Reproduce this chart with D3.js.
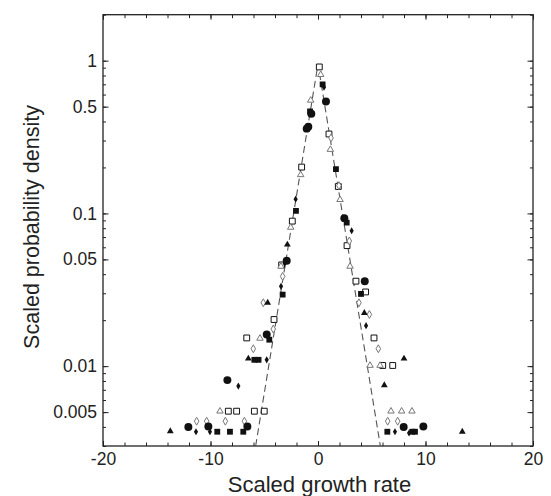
<!DOCTYPE html>
<html>
<head>
<meta charset="utf-8">
<script src="https://cdn.jsdelivr.net/npm/d3@7"></script>
<style>
  html, body { margin: 0; padding: 0; background: #fff; }
  svg { display: block; }
  text { font-family: "Liberation Sans", Arial, Helvetica, sans-serif; fill: #222; }
</style>
</head>
<body>
<svg id="chart" width="551" height="496"></svg>
<script>
// ---- data (x = scaled growth rate, y = scaled probability density)
const filledCircles = [
  [0.74, 0.54], [-0.62, 0.45], [-1.05, 0.359], [-0.9, 0.37], [2.45, 0.093],
  [-2.91, 0.049], [4.35, 0.036], [-4.77, 0.0161], [-8.43, 0.0081],
  [-12.06, 0.0040], [-10.2, 0.00403], [-6.57, 0.00403], [7.97, 0.0040], [9.8, 0.00403]
];
const filledDiamonds = [
  [0.56, 0.67], [-2.08, 0.124], [3.13, 0.077], [-3.1, 0.047], [-3.44, 0.0333],
  [4.47, 0.0184], [-4.77, 0.011], [-7.41, 0.0074], [-11.35, 0.00372],
  [-10.05, 0.00372], [7.16, 0.00372], [8.47, 0.00365]
];
const filledSquares = [
  [0.43, 0.70], [-0.74, 0.466], [1.67, 0.195], [-2.05, 0.104], [2.67, 0.087],
  [-3.29, 0.0294], [4.0, 0.0297], [-4.53, 0.0149], [-5.92, 0.011], [-5.53, 0.011],
  [-9.37, 0.00372], [-8.19, 0.00372], [-6.95, 0.00372], [6.45, 0.00372],
  [8.77, 0.00372], [9.02, 0.00372]
];
const filledTriangles = [
  [-2.85, 0.0625], [-4.68, 0.026], [4.31, 0.0223], [-6.48, 0.0112], [8.0, 0.0112],
  [6.17, 0.0075], [-13.74, 0.00375], [13.42, 0.00372]
];
const openSquares = [
  [0.12, 0.91], [1.02, 0.331], [-1.52, 0.201], [1.89, 0.150], [-2.39, 0.089],
  [2.70, 0.0615], [-3.38, 0.046], [3.53, 0.036], [4.43, 0.0306], [-4.09, 0.0202],
  [-6.63, 0.0153], [5.21, 0.0153], [6.02, 0.0101], [6.95, 0.0101],
  [-8.34, 0.00507], [-7.57, 0.00507], [-5.92, 0.00507], [-5.0, 0.00507]
];
const openDiamonds = [
  [1.21, 0.312], [1.95, 0.152], [2.91, 0.066], [-3.29, 0.0387], [3.81, 0.026],
  [-5.09, 0.026], [4.78, 0.0218], [-4.16, 0.0175], [-6.02, 0.013], [5.61, 0.013],
  [-11.29, 0.00436], [-10.36, 0.00436], [-8.62, 0.00436], [-6.85, 0.00436],
  [6.48, 0.00436], [7.41, 0.00436]
];
const openTriangles = [
  [0.25, 0.81], [-0.68, 0.55], [1.15, 0.262], [-1.61, 0.179], [2.05, 0.123],
  [-2.54, 0.081], [-3.45, 0.045], [2.98, 0.045], [-5.4, 0.0152], [4.84, 0.0101],
  [5.77, 0.0101], [-9.12, 0.00507], [6.79, 0.00507], [7.78, 0.00507], [8.74, 0.00507]
];
// dashed guide line (straight on the log scale)
const guideLine = [[-5.8, 0.003], [0, 0.95], [5.8, 0.003]];

const xTickLabels = [-20, -10, 0, 10, 20];
const yTickLabels = [1, 0.5, 0.1, 0.05, 0.01, 0.005];
const xLabel = "Scaled growth rate";
const yLabel = "Scaled probability density";

// ---- layout
const L = 103, T = 14.7, W = 430, H = 431.3;
const svg = d3.select("#chart");
const x = d3.scaleLinear().domain([-20, 20]).range([L, L + W]);
const y = d3.scaleLog().domain([0.003, 2]).range([T + H, T]);

svg.append("defs").append("clipPath").attr("id", "clip")
  .append("rect").attr("x", L).attr("y", T).attr("width", W).attr("height", H);

// minor tick values
const xMinor = d3.range(-20, 21, 2);
const yMinor = [];
[-3, -2, -1, 0].forEach(k => { for (let m = 1; m <= 9; m++) { const v = m * Math.pow(10, k); if (v >= 0.003 && v <= 2) yMinor.push(v); } });

function styleAxis(g) {
  g.select(".domain").remove();
  g.selectAll(".tick line").attr("stroke", "#222").attr("stroke-width", 1);
  g.selectAll(".tick text").style("font-size", "17.5px").attr("fill", "#222");
}

// bottom
svg.append("g").attr("transform", `translate(0,${T + H})`)
  .call(d3.axisBottom(x).tickValues(xMinor).tickSize(-3.5).tickFormat(""))
  .call(styleAxis);
svg.append("g").attr("transform", `translate(0,${T + H})`)
  .call(d3.axisBottom(x).tickValues(xTickLabels).tickSize(-5).tickPadding(6.5).tickFormat(d => String(d)))
  .call(styleAxis);
// top
svg.append("g").attr("transform", `translate(0,${T})`)
  .call(d3.axisTop(x).tickValues(xMinor).tickSize(-3.5).tickFormat(""))
  .call(styleAxis);
svg.append("g").attr("transform", `translate(0,${T})`)
  .call(d3.axisTop(x).tickValues(xTickLabels).tickSize(-5).tickFormat(""))
  .call(styleAxis);
// left
svg.append("g").attr("transform", `translate(${L},0)`)
  .call(d3.axisLeft(y).tickValues(yMinor).tickSize(-3).tickFormat(""))
  .call(styleAxis);
svg.append("g").attr("transform", `translate(${L},0)`)
  .call(d3.axisLeft(y).tickValues(yTickLabels).tickSize(-5.5).tickPadding(6).tickFormat(d => String(d)))
  .call(styleAxis);
// right
svg.append("g").attr("transform", `translate(${L + W},0)`)
  .call(d3.axisRight(y).tickValues(yMinor).tickSize(-3).tickFormat(""))
  .call(styleAxis);
svg.append("g").attr("transform", `translate(${L + W},0)`)
  .call(d3.axisRight(y).tickValues(yTickLabels).tickSize(-5.5).tickFormat(""))
  .call(styleAxis);

// frame
svg.append("rect").attr("x", L).attr("y", T).attr("width", W).attr("height", H)
  .attr("fill", "none").attr("stroke", "#222").attr("stroke-width", 1.3);

// dashed line
const plot = svg.append("g").attr("clip-path", "url(#clip)");
plot.append("path").datum(guideLine)
  .attr("d", d3.line().x(d => x(d[0])).y(d => y(d[1])))
  .attr("fill", "none").attr("stroke", "#555").attr("stroke-width", 1.1)
  .attr("stroke-dasharray", "7,4");

// markers
const series = [
  { data: openSquares,    type: d3.symbolSquare,   size: 34, fill: "#fff", stroke: "#111", sw: 1 },
  { data: openDiamonds,   type: d3.symbolDiamond,  size: 18, fill: "#fff", stroke: "#777", sw: 1 },
  { data: openTriangles,  type: d3.symbolTriangle, size: 18, fill: "#fff", stroke: "#777", sw: 1 },
  { data: filledSquares,  type: d3.symbolSquare,   size: 34, fill: "#111", stroke: "none", sw: 0 },
  { data: filledTriangles,type: d3.symbolTriangle, size: 20, fill: "#111", stroke: "none", sw: 0 },
  { data: filledDiamonds, type: d3.symbolDiamond,  size: 15, fill: "#111", stroke: "none", sw: 0 },
  { data: filledCircles,  type: d3.symbolCircle,   size: 50, fill: "#111", stroke: "none", sw: 0 }
];
series.forEach(s => {
  const sym = d3.symbol().type(s.type).size(s.size);
  plot.append("g").selectAll("path").data(s.data).join("path")
    .attr("transform", d => `translate(${x(d[0])},${y(d[1])})`)
    .attr("d", sym)
    .attr("fill", s.fill)
    .attr("stroke", s.stroke)
    .attr("stroke-width", s.sw);
});

// axis titles
svg.append("text").attr("x", L + W / 2 + 1.5).attr("y", 491.5)
  .attr("text-anchor", "middle").style("font-size", "22px").text(xLabel);
svg.append("text").attr("transform", `translate(38.5,227) rotate(-90)`)
  .attr("text-anchor", "middle").style("font-size", "21.5px").text(yLabel);
</script>
</body>
</html>
